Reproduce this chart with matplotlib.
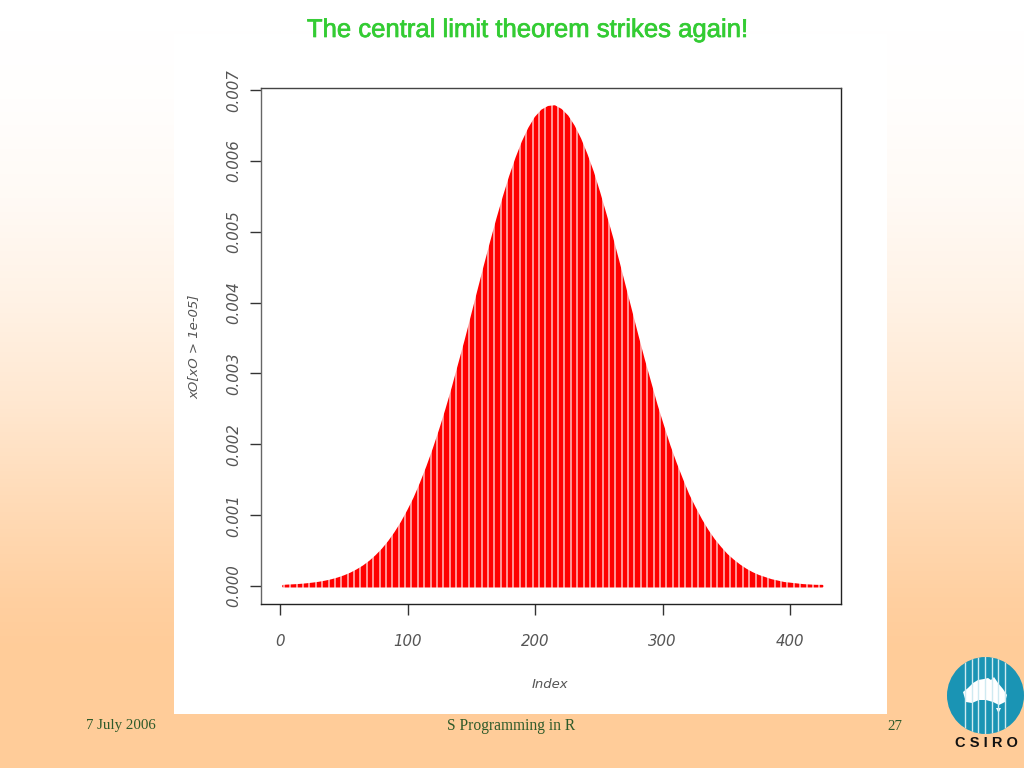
import numpy as np
import matplotlib
matplotlib.use("Agg")
import matplotlib.pyplot as plt
import matplotlib.patheffects as pe
from matplotlib.patches import Circle, Rectangle, Polygon

W, H = 1024, 768

index = [2] + list(range(5, 430, 5))
values = [
    .00001,
    .000013, .0000175, .000023, .000031, .000041, .000053, .000069, .000089, .000114, .000145,
    .000183, .00023, .000285, .000352, .000432, .000525, .000634, .000761, .000905, .00107,
    .00125, .00146, .00169, .00194, .00221, .00250, .00281, .00314, .00347, .00382,
    .00417, .00452, .00486, .00519, .00550, .00579, .00605, .00628, .00647, .00662,
    .00672, .00677, .00678, .00673, .00664, .00650, .00632, .00610, .00585, .00556,
    .00525, .00493, .00459, .00424, .00389, .00354, .00320, .00288, .00256, .00227,
    .00199, .00174, .00151, .00129, .00111, .00094, .00079, .00066, .00055, .00045,
    .00037, .00030, .00024, .00019, .00015, .00012, .00009, .00007, .00005, .00004,
    .00003, .00002, .000015, .00001, .00001,
]
x_ticks = [0, 100, 200, 300, 400]
y_ticks = [0.000, 0.001, 0.002, 0.003, 0.004, 0.005, 0.006, 0.007]
y_labels = ["0.000", "0.001", "0.002", "0.003", "0.004", "0.005", "0.006", "0.007"]
title = "The central limit theorem strikes again!"
x_label = "Index"
y_label = "xO[xO > 1e-05]"
footer_left = "7 July 2006"
footer_mid = "S Programming in R"
footer_right = "27"
logo_text = "C S I R O"

fig = plt.figure(figsize=(W / 100, H / 100), dpi=100)

# slide background in pixel coordinates
bg = fig.add_axes([0, 0, 1, 1])
bg.set_xlim(0, W)
bg.set_ylim(H, 0)
bg.axis("off")
top = np.array([255, 255, 255]) / 255
bot = np.array([255, 204, 153]) / 255
rows = np.arange(H)
t = np.interp(rows, [0, 30, 100, 200, 300, 400, 500, 600, 650, 768],
              [0, 0, .02, .10, .25, .45, .70, .93, 1, 1])[:, None, None]
grad = top + (bot - top) * t
bg.imshow(grad, extent=[0, W, H, 0], aspect="auto", zorder=0)
bg.add_patch(Rectangle((174, 34), 713, 680, color="white", lw=0, zorder=1))

bg.text(528, 30, title, color="#33CC33", fontsize=18.5, family="Liberation Sans",
        ha="center", va="center", zorder=3,
        path_effects=[pe.withStroke(linewidth=0.5, foreground="#33CC33")])
serif = "Liberation Serif"
foot = dict(family=serif, color="#2E5A2A", va="center")
bg.text(86, 726, footer_left, ha="left", fontsize=10.7, **foot)
bg.text(511.5, 726, footer_mid, ha="center", fontsize=11.2, **foot)
bg.text(895, 726, footer_right, ha="center", fontsize=10.7, **foot)

# logo
teal = "#1A94B4"
cx, cy, r = 985.5, 695.5, 38.5
disc = Circle((cx, cy), r, color=teal, lw=0, zorder=2)
bg.add_patch(disc)
aus = [(963, 692), (968, 688), (973, 683), (978, 680), (984, 679), (988, 678), (991, 680),
       (994, 677), (998, 683), (1003, 689), (1007, 695), (1005, 702), (999, 705), (993, 702),
       (986, 700), (979, 700), (972, 703), (966, 702)]
bg.add_patch(Polygon(aus, closed=True, color="white", lw=0, zorder=3))
bg.add_patch(Polygon([(996, 708), (1001, 708), (998.5, 713)], closed=True, color="white", lw=0, zorder=3))
for sx in [965, 971.7, 978.3, 985, 991.7, 998.3, 1005]:
    ln, = bg.plot([sx, sx], [cy - r, cy + r], color="#CFEAF1", lw=1.0, zorder=4)
    ln.set_clip_path(disc)
bg.text(986, 743, logo_text, fontsize=10.5, fontweight="bold", family="Liberation Sans",
        color="#111111", ha="center", va="center", zorder=4)

# R plot
ax = fig.add_axes([261 / W, 1 - 604 / H, 580 / W, 516 / H])
ax.set_zorder(5)
ax.patch.set_facecolor("white")
ax.fill_between(index, 0, values, color="#FF0000", linewidth=1.4, zorder=2)
ax.vlines(np.arange(3, 430, 5), -0.00005, 0.0069, color="white", alpha=0.75,
          linewidth=1.1, zorder=3)
ax.set_xlim(-15, 440)
ax.set_ylim(-0.000254, 0.00703)
for s in ax.spines.values():
    s.set_linewidth(1.0)
    s.set_color("#222222")
ax.spines["left"].set_color("#666666")
ax.spines["top"].set_color("#444444")

afont = dict(family="DejaVu Sans", style="oblique", color="#555555", fontsize=10.8)
ax.set_xticks(x_ticks)
ax.set_xticklabels([str(v) for v in x_ticks], **afont)
ax.set_yticks(y_ticks)
ax.set_yticklabels(y_labels, rotation=90, va="center", **afont)
ax.tick_params(axis="x", length=8, width=1, color="#333333", pad=13.5)
ax.tick_params(axis="y", length=8, width=1, color="#333333", pad=6.5)
ax.set_xlabel(x_label, va="center", **{**afont, "fontsize": 9.5})
ax.set_ylabel(y_label, va="center", **{**afont, "fontsize": 9.5})
ax.xaxis.set_label_coords((550 - 261) / 580, -(684 - 604) / 516)
ax.yaxis.set_label_coords((194 - 261) / 580, (604 - 347) / 516)

fig.savefig("out.png", dpi=100)
